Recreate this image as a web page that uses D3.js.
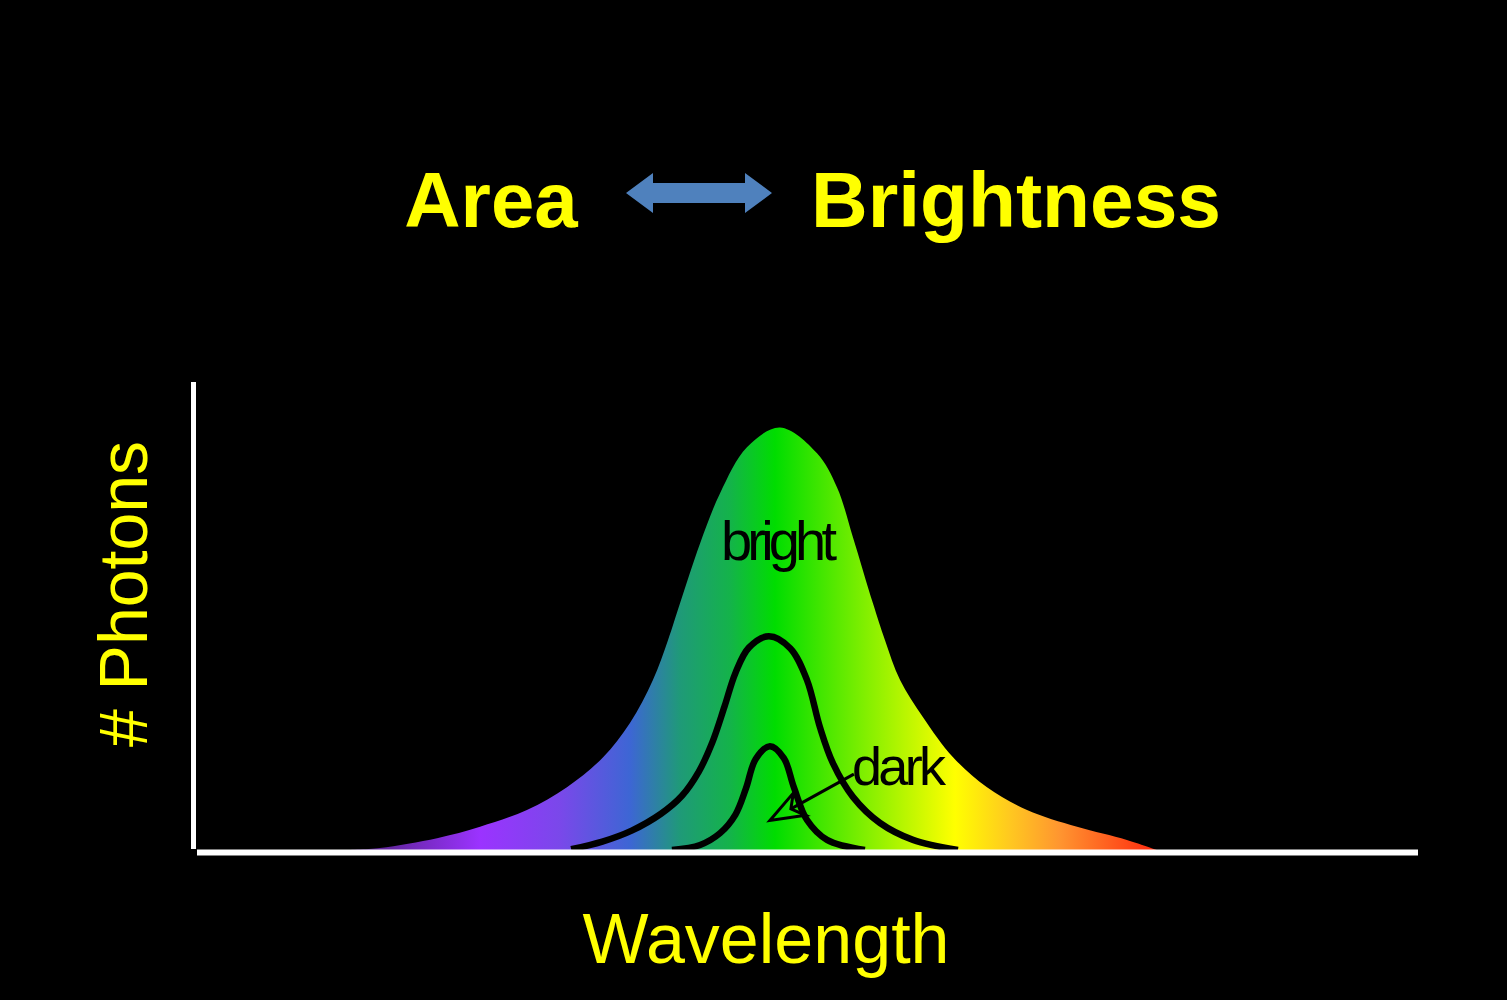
<!DOCTYPE html>
<html>
<head>
<meta charset="utf-8">
<script src="https://cdn.jsdelivr.net/npm/d3@7"></script>
<style>
  html, body { margin: 0; padding: 0; background: #000; }
  svg { display: block; }
</style>
</head>
<body>
<svg id="chart" width="1507" height="1000"></svg>
<script>
// ---- Data (wavelength in nm, photon counts in arbitrary units) ----
const brightNm  = [360.6, 374.9, 398.3, 415.9, 435.1, 451.5, 466.3, 477.3, 486.7, 492.9, 497.8, 506.0, 514.2, 525.2, 538.7, 553.9, 562.1, 568.6, 576.8, 581.7, 587.9, 597.3, 609.6, 623.5, 639.9, 660.4, 680.8, 693.1];
const brightVal = [0,     0.5,   2.8,   5.5,   9.5,   14.9,  22.0,  30.1,  40.3,  49.8,  58.5,  72.7,  84.6,  95.5,  100.2, 94.1,  86.0,  74.2,  58.5,  49.8,  40.3,  31.5,  22.0,  14.9,  9.5,   5.5,   2.4,   0];

const midNm  = [453.2, 466.0, 478.0, 490.0, 498.5, 505.5, 511.0, 516.0, 520.5, 526.0, 534.2, 543.0, 549.8, 555.1, 560.4, 568.6, 579.7, 593.2, 611.6];
const midVal = [0.2,   2.0,   4.6,   8.6,   12.8,  18.6,  25.5,  34.0,  42.0,  48.0,  50.7,  47.8,  40.3,  29.1,  20.6,  12.6,  6.4,   2.4,   0];

const darkNm  = [494.5, 506.0, 514.2, 520.5, 524.8, 528.8, 534.6, 540.3, 544.4, 549.8, 558.0, 573.5];
const darkVal = [0,     1.2,   4.0,   8.4,   14.6,  21.6,  24.6,  21.8,  14.9,  7.1,   2.4,   0];

// spectrum colour stops along the wavelength axis
const stopNm    = [358.6, 374.9, 415.9, 448.6, 477.3, 497.8, 518.3, 536.7, 571.5, 610.4, 632.9, 653.4, 690.3];
const stopColor = ["#3a1a60", "#5e2498", "#9b33ff", "#7a48ea", "#3d66d4", "#1f9a78", "#14b34a", "#00dd00", "#7aee00", "#ffff00", "#ffc820", "#ff9530", "#ff3010"];

const titleLeft  = "Area";
const titleRight = "Brightness";
const xLabel = "Wavelength";
const yLabel = "# Photons";
const brightLabel = "bright";
const darkLabel = "dark";

// arrow annotation (data coords): from label to the dark curve
const arrowFromNm = 569.0, arrowFromVal = 18.0;
const arrowToNm   = 534.6, arrowToVal   = 7.0;

// ---- Scales ----
const x = d3.scaleLinear().domain([300, 800]).range([197, 1418]);
const y = d3.scaleLinear().domain([0, 111]).range([850, 382]);

const svg = d3.select("#chart");
const font = "'Liberation Sans', Arial, Helvetica, sans-serif";

svg.append("rect").attr("width", 1507).attr("height", 1000).attr("fill", "#000");

// gradient
const defs = svg.append("defs");
const grad = defs.append("linearGradient")
  .attr("id", "spectrum")
  .attr("gradientUnits", "userSpaceOnUse")
  .attr("x1", x(stopNm[0])).attr("x2", x(stopNm[stopNm.length - 1]))
  .attr("y1", 0).attr("y2", 0);
grad.selectAll("stop").data(stopNm).join("stop")
  .attr("offset", d => (d - stopNm[0]) / (stopNm[stopNm.length - 1] - stopNm[0]))
  .attr("stop-color", (d, i) => stopColor[i]);

const curve = d3.curveCatmullRom.alpha(0.5);

// bright curve (filled)
const brightData = brightNm.map((n, i) => ({ n, v: brightVal[i] }));
const area = d3.area().x(d => x(d.n)).y0(y(0)).y1(d => y(d.v)).curve(curve);
svg.append("path").datum(brightData).attr("d", area).attr("fill", "url(#spectrum)");

// outline curves
const line = d3.line().x(d => x(d.n)).y(d => y(d.v)).curve(curve);
[[midNm, midVal], [darkNm, darkVal]].forEach(([ns, vs]) => {
  svg.append("path")
    .datum(ns.map((n, i) => ({ n, v: vs[i] })))
    .attr("d", line)
    .attr("fill", "none")
    .attr("stroke", "#000")
    .attr("stroke-width", 6.5)
    .attr("stroke-linejoin", "round");
});

// axes
svg.append("line")
  .attr("x1", 193.5).attr("x2", 193.5)
  .attr("y1", y(111)).attr("y2", y(0) - 1)
  .attr("stroke", "#fff").attr("stroke-width", 5);
svg.append("line")
  .attr("x1", x(300)).attr("x2", x(800))
  .attr("y1", y(0) + 2.5).attr("y2", y(0) + 2.5)
  .attr("stroke", "#fff").attr("stroke-width", 6);

// labels inside
svg.append("text")
  .attr("x", 721).attr("y", 560)
  .attr("font-family", font).attr("font-size", 56)
  .attr("textLength", 116).attr("lengthAdjust", "spacing")
  .attr("fill", "#000")
  .text(brightLabel);

svg.append("text")
  .attr("x", 852).attr("y", 785)
  .attr("font-family", font).attr("font-size", 54)
  .attr("textLength", 94).attr("lengthAdjust", "spacing")
  .attr("fill", "#000")
  .text(darkLabel);

// annotation arrow
const ax1 = x(arrowFromNm), ay1 = y(arrowFromVal);
const ax2 = x(arrowToNm), ay2 = y(arrowToVal);
const ang = Math.atan2(ay2 - ay1, ax2 - ax1);
const hl = 36, hw = 0.36;
const p1 = [ax2 - hl * Math.cos(ang - hw), ay2 - hl * Math.sin(ang - hw)];
const p2 = [ax2 - hl * Math.cos(ang + hw), ay2 - hl * Math.sin(ang + hw)];
const back = [ax2 - 24 * Math.cos(ang), ay2 - 24 * Math.sin(ang)];
svg.append("line")
  .attr("x1", ax1).attr("y1", ay1).attr("x2", back[0]).attr("y2", back[1])
  .attr("stroke", "#000").attr("stroke-width", 3);
svg.append("path")
  .attr("d", `M${p1[0]},${p1[1]}L${ax2},${ay2}L${p2[0]},${p2[1]}L${back[0]},${back[1]}Z`)
  .attr("fill", "none").attr("stroke", "#000").attr("stroke-width", 3)
  .attr("stroke-linejoin", "miter");

// titles
svg.append("text")
  .attr("x", 491).attr("y", 227).attr("text-anchor", "middle")
  .attr("font-family", font).attr("font-weight", "bold").attr("font-size", 78)
  .attr("fill", "#ffff00").text(titleLeft);
svg.append("text")
  .attr("x", 1016).attr("y", 227).attr("text-anchor", "middle")
  .attr("font-family", font).attr("font-weight", "bold").attr("font-size", 78)
  .attr("textLength", 410).attr("lengthAdjust", "spacingAndGlyphs")
  .attr("fill", "#ffff00").text(titleRight);

// double block arrow
svg.append("path")
  .attr("d", "M626,193 L653,173 L653,183 L745,183 L745,173 L772,193 L745,213 L745,203 L653,203 L653,213 Z")
  .attr("fill", "#4f81bd");

// axis titles
svg.append("text")
  .attr("x", 766).attr("y", 963).attr("text-anchor", "middle")
  .attr("font-family", font).attr("font-size", 70)
  .attr("fill", "#ffff00").text(xLabel);
svg.append("text")
  .attr("transform", "translate(147,594) rotate(-90)")
  .attr("text-anchor", "middle")
  .attr("font-family", font).attr("font-size", 68)
  .attr("fill", "#ffff00").text(yLabel);
</script>
</body>
</html>
